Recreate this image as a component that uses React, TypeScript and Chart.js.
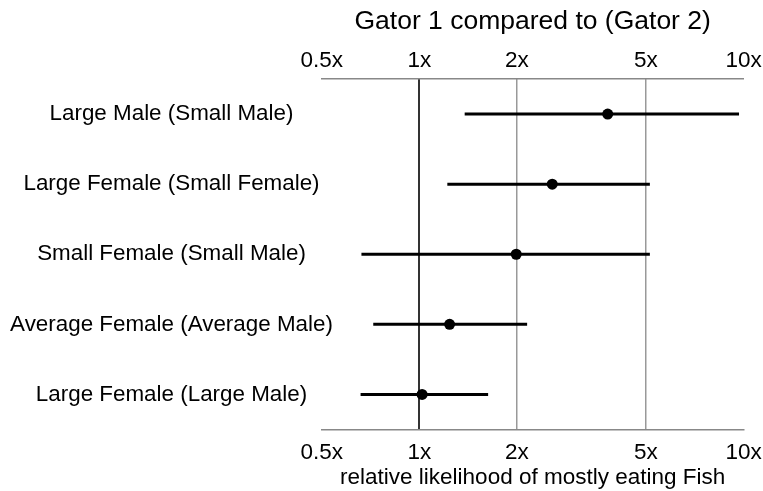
import React, { useEffect, useRef } from "react";
import { Chart, registerables } from "chart.js";

Chart.register(...registerables);

const comparisons: string[] = [
  "Large Male (Small Male)",
  "Large Female (Small Female)",
  "Small Female (Small Male)",
  "Average Female (Average Male)",
  "Large Female (Large Male)",
];
const estimates: number[] = [3.81, 2.57, 1.99, 1.24, 1.02];
const lowerBounds: number[] = [1.38, 1.22, 0.663, 0.721, 0.659];
const upperBounds: number[] = [9.68, 5.14, 5.14, 2.15, 1.63];
const tickValues: number[] = [0.5, 1, 2, 5, 10];

const FONT = "'Liberation Sans', Arial, Helvetica, sans-serif";

const rowLabelPlugin = {
  id: "rowLabels",
  afterDraw(chart: any) {
    const yScale = chart.scales.y;
    const ctx = chart.ctx;
    ctx.save();
    ctx.fillStyle = "#000";
    ctx.font = `22.4px ${FONT}`;
    ctx.textAlign = "center";
    ctx.textBaseline = "middle";
    const cx = yScale.left + 171.5;
    comparisons.forEach((label, i) => {
      ctx.fillText(label, cx, yScale.getPixelForValue(i));
    });
    ctx.restore();
  },
};

export default function App() {
  const canvasRef = useRef<HTMLCanvasElement | null>(null);

  useEffect(() => {
    const canvas = canvasRef.current;
    if (!canvas) return;

    const gridColor = (ctx: any) => {
      const v = ctx.tick ? ctx.tick.value : null;
      if (v === 1) return "#333333";
      if (v === 2 || v === 5) return "#999999";
      return "rgba(0,0,0,0)";
    };
    const gridWidth = (ctx: any) => {
      const v = ctx.tick ? ctx.tick.value : null;
      return v === 1 ? 2 : 1.5;
    };
    const setTicks = (scale: any) => {
      scale.ticks = tickValues.map((v) => ({ value: v }));
    };

    const datasets: any[] = [
      {
        label: "estimate",
        data: estimates.map((v, i) => ({ x: v, y: i })),
        pointRadius: 5.5,
        pointBackgroundColor: "#000",
        pointBorderColor: "#000",
        pointBorderWidth: 0,
        showLine: false,
      },
      ...comparisons.map((_, i) => ({
        label: "ci" + i,
        data: [
          { x: lowerBounds[i], y: i },
          { x: upperBounds[i], y: i },
        ],
        showLine: true,
        borderColor: "#000",
        borderWidth: 3,
        pointRadius: 0,
        fill: false,
      })),
    ];

    const chart = new Chart(canvas, {
      type: "scatter",
      data: { datasets },
      plugins: [rowLabelPlugin],
      options: {
        animation: false,
        responsive: false,
        maintainAspectRatio: false,
        layout: { padding: { left: 0, right: 19.4, top: 0, bottom: 0 } },
        plugins: {
          legend: { display: false },
          tooltip: { enabled: false },
          title: {
            display: true,
            fullSize: false,
            text: "Gator 1 compared to (Gator 2)",
            color: "#000",
            font: { family: FONT, size: 26.5, weight: "normal" },
            padding: { top: 5.6, bottom: 0 },
          },
        },
        scales: {
          x: {
            type: "logarithmic",
            position: "bottom",
            min: 0.5,
            max: 10,
            afterBuildTicks: setTicks,
            afterFit: (scale: any) => {
              scale.height = 61.5;
              scale.paddingLeft = 0;
              scale.paddingRight = 0;
            },
            ticks: {
              autoSkip: false,
              maxRotation: 0,
              color: "#000",
              padding: 10,
              font: { family: FONT, size: 22.5 },
              callback: (v: any) => v + "x",
            },
            grid: {
              display: true,
              drawTicks: false,
              color: gridColor,
              lineWidth: gridWidth,
            },
            border: { display: true, color: "#888888", width: 1.5 },
            title: {
              display: true,
              text: "relative likelihood of mostly eating Fish",
              color: "#000",
              font: { family: FONT, size: 22.5 },
              padding: { top: 0, bottom: 0 },
            },
          },
          x2: {
            type: "logarithmic",
            position: "top",
            min: 0.5,
            max: 10,
            afterBuildTicks: setTicks,
            afterFit: (scale: any) => {
              scale.height = 41.6;
              scale.paddingLeft = 0;
              scale.paddingRight = 0;
            },
            ticks: {
              autoSkip: false,
              maxRotation: 0,
              color: "#000",
              padding: 5,
              font: { family: FONT, size: 22.5 },
              callback: (v: any) => v + "x",
            },
            grid: { display: false, drawTicks: false },
            border: { display: true, color: "#888888", width: 1.5 },
          },
          y: {
            type: "linear",
            reverse: true,
            min: -0.5,
            max: 4.5,
            afterBuildTicks: (scale: any) => {
              scale.ticks = comparisons.map((_, i) => ({ value: i }));
            },
            afterFit: (scale: any) => {
              scale.width = 321.7;
              scale.paddingTop = 0;
              scale.paddingBottom = 0;
            },
            ticks: { display: false },
            grid: { display: false, drawTicks: false },
            border: { display: false },
          },
        },
      } as any,
    });

    return () => {
      chart.destroy();
    };
  }, []);

  return (
    <div
      style={{
        position: "fixed",
        left: 0,
        top: 0,
        width: 763,
        height: 491,
        background: "#fff",
      }}
    >
      <canvas ref={canvasRef} width={763} height={491} style={{ width: 763, height: 491 }} />
    </div>
  );
}
